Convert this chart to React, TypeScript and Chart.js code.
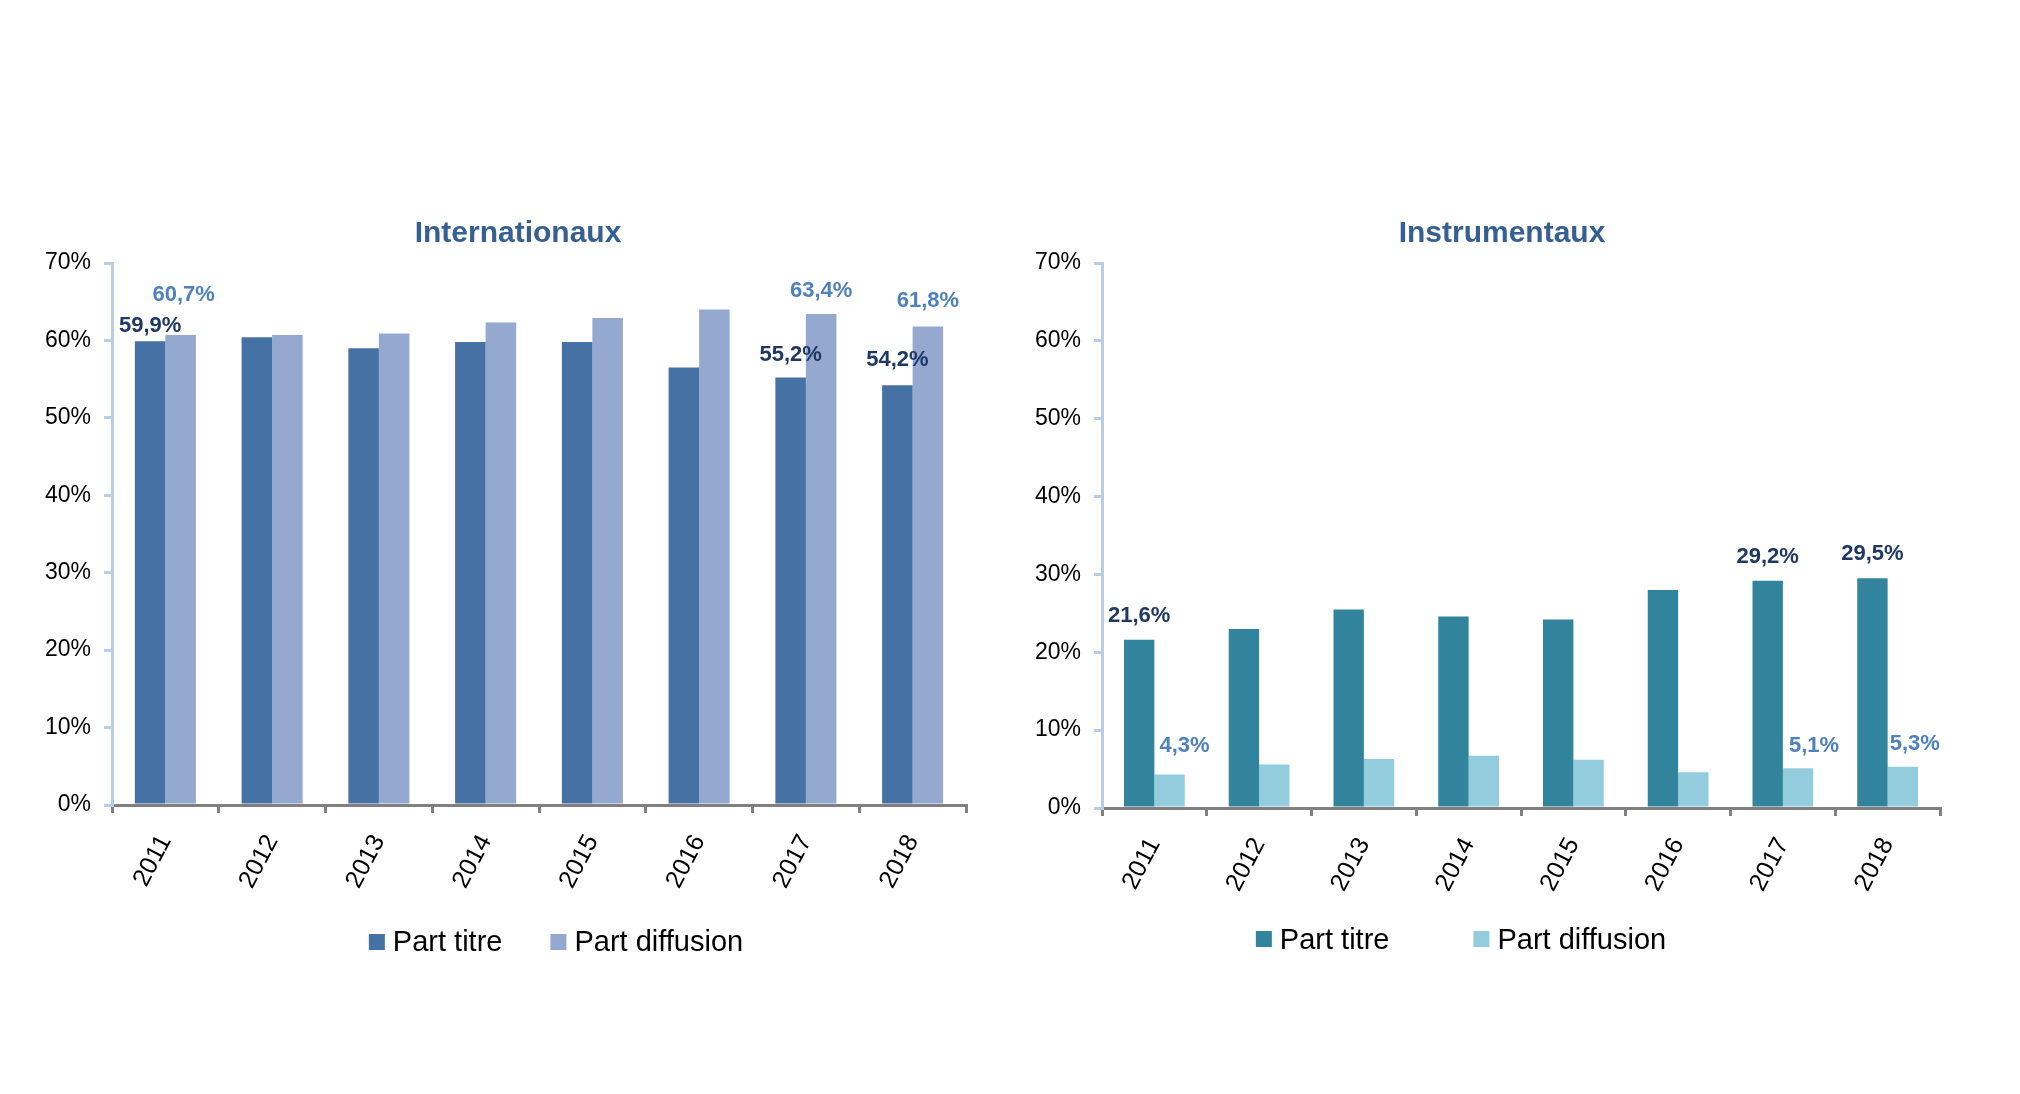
import React, { useEffect, useRef } from 'react';
import { Chart, registerables } from 'chart.js';

Chart.register(...registerables);

// ---- data ----
const years = ['2011', '2012', '2013', '2014', '2015', '2016', '2017', '2018'];
const seriesNames = ['Part titre', 'Part diffusion'];
const yMax = 70;
const yStep = 10;

const intlTitle = 'Internationaux';
const intlTitre = [59.9, 60.4, 59.0, 59.8, 59.8, 56.5, 55.2, 54.2];
const intlDiffusion = [60.7, 60.7, 60.9, 62.3, 62.9, 64.0, 63.4, 61.8];

const instTitle = 'Instrumentaux';
const instTitre = [21.6, 23.0, 25.5, 24.6, 24.2, 28.0, 29.2, 29.5];
const instDiffusion = [4.3, 5.6, 6.3, 6.7, 6.2, 4.6, 5.1, 5.3];

const labeledYears = ['2011', '2017', '2018'];

const FONT = '"Liberation Sans", Arial, Helvetica, sans-serif';

type PanelCfg = {
  left: number;
  width: number;
  height: number;
  yAxisWidth: number;
  padRight: number;
  padTop: number;
  xAxisHeight: number;
  catPct: number;
  titleX: number;
  titleBaseline: number;
  legendX: number;
  legendBoxY: number;
  legendTextY: number;
  legendGap: number;
  colors: string[];
  labelColors: string[];
  // per dataset, per labeled index: [dx, lift]
  labelOffsets: number[][][];
};

const overlayPlugin = {
  id: 'overlay',
  afterDatasetsDraw(chart: any, _args: any, opts: any) {
    const ctx: CanvasRenderingContext2D = chart.ctx;
    ctx.save();
    // data labels
    ctx.font = `bold 22px ${FONT}`;
    ctx.textAlign = 'center';
    ctx.textBaseline = 'alphabetic';
    chart.data.datasets.forEach((ds: any, di: number) => {
      const meta = chart.getDatasetMeta(di);
      opts.labeled.forEach((lab: string, k: number) => {
        const idx = chart.data.labels.indexOf(lab);
        if (idx < 0) return;
        const el = meta.data[idx];
        const v = ds.data[idx] as number;
        const [dx, lift] = opts.labelOffsets[di][k];
        ctx.fillStyle = opts.labelColors[di];
        ctx.fillText(v.toFixed(1).replace('.', ',') + '%', el.x + dx, el.y - lift);
      });
    });
    ctx.restore();
  },
  afterDraw(chart: any, _args: any, opts: any) {
    const ctx: CanvasRenderingContext2D = chart.ctx;
    ctx.save();
    // title
    ctx.font = `bold 30px ${FONT}`;
    ctx.fillStyle = '#376092';
    ctx.textAlign = 'center';
    ctx.textBaseline = 'alphabetic';
    ctx.fillText(opts.title, opts.titleX, opts.titleBaseline);
    // legend
    ctx.font = `29px ${FONT}`;
    ctx.textAlign = 'left';
    const box = 16;
    const boxGap = 8;
    const items = chart.data.datasets.map((ds: any) => ({
      text: ds.label as string,
      color: ds.backgroundColor as string,
      w: ctx.measureText(ds.label).width,
    }));
    let total = 0;
    items.forEach((it: any, i: number) => {
      total += box + boxGap + it.w + (i > 0 ? opts.legendGap : 0);
    });
    let x = opts.legendX - total / 2;
    items.forEach((it: any) => {
      ctx.fillStyle = it.color;
      ctx.fillRect(x, opts.legendBoxY - box / 2, box, box);
      ctx.fillStyle = '#000000';
      ctx.fillText(it.text, x + box + boxGap, opts.legendTextY);
      x += box + boxGap + it.w + opts.legendGap;
    });
    ctx.restore();
  },
};

function BarPanel({ cfg, title, titre, diffusion }: { cfg: PanelCfg; title: string; titre: number[]; diffusion: number[] }) {
  const ref = useRef<HTMLCanvasElement | null>(null);
  useEffect(() => {
    if (!ref.current) return;
    const chart = new Chart(ref.current, {
      type: 'bar',
      data: {
        labels: years,
        datasets: [
          { label: seriesNames[0], data: titre, backgroundColor: cfg.colors[0], borderWidth: 0 },
          { label: seriesNames[1], data: diffusion, backgroundColor: cfg.colors[1], borderWidth: 0 },
        ],
      },
      options: {
        animation: false,
        responsive: false,
        devicePixelRatio: 1,
        datasets: { bar: { categoryPercentage: cfg.catPct, barPercentage: 1 } },
        layout: { padding: { top: cfg.padTop, right: cfg.padRight, left: 0, bottom: 0 } },
        plugins: {
          legend: { display: false },
          title: { display: false },
          tooltip: { enabled: false },
          overlay: {
            title,
            titleX: cfg.titleX,
            titleBaseline: cfg.titleBaseline,
            legendX: cfg.legendX,
            legendBoxY: cfg.legendBoxY,
            legendTextY: cfg.legendTextY,
            legendGap: cfg.legendGap,
            labeled: labeledYears,
            labelOffsets: cfg.labelOffsets,
            labelColors: cfg.labelColors,
          },
        } as any,
        scales: {
          x: {
            afterFit: (s: any) => { s.height = cfg.xAxisHeight; },
            border: { color: '#808080', width: 3 },
            grid: { drawOnChartArea: false, drawTicks: true, tickLength: 8, color: '#808080', lineWidth: 3, offset: true },
            ticks: { font: { family: FONT, size: 25 }, color: '#000000', minRotation: 62, maxRotation: 62, padding: 17 },
          },
          y: {
            min: 0,
            max: yMax,
            afterFit: (s: any) => { s.width = cfg.yAxisWidth; },
            border: { color: '#B9CDE5', width: 3 },
            grid: { drawOnChartArea: false, drawTicks: true, tickLength: 8, color: '#B9CDE5', lineWidth: 3 },
            ticks: {
              stepSize: yStep,
              font: { family: FONT, size: 23 },
              color: '#000000',
              padding: 13,
              callback: (v: any) => `${v}%`,
            },
          },
        },
      },
      plugins: [overlayPlugin as any],
    });
    return () => chart.destroy();
  }, []);
  return (
    <div style={{ position: 'absolute', left: cfg.left, top: 0, width: cfg.width, height: cfg.height }}>
      <canvas ref={ref} width={cfg.width} height={cfg.height} style={{ width: cfg.width, height: cfg.height, display: 'block' }} />
    </div>
  );
}

const leftCfg: PanelCfg = {
  left: 0,
  width: 1010,
  height: 1094,
  yAxisWidth: 112,
  padRight: 44,
  padTop: 263,
  xAxisHeight: 289,
  catPct: 0.572,
  titleX: 518,
  titleBaseline: 242,
  legendX: 556,
  legendBoxY: 942,
  legendTextY: 951,
  legendGap: 48,
  colors: ['#4671A5', '#95A9D0'],
  labelColors: ['#1F3864', '#4F81BD'],
  labelOffsets: [
    [[0, 9], [0, 17], [0, 19]],
    [[3, 34], [0, 17], [0, 19]],
  ],
};

const rightCfg: PanelCfg = {
  left: 1010,
  width: 1010,
  height: 1094,
  yAxisWidth: 92,
  padRight: 80,
  padTop: 263,
  xAxisHeight: 286,
  catPct: 0.58,
  titleX: 492,
  titleBaseline: 242,
  legendX: 451,
  legendBoxY: 939,
  legendTextY: 949,
  legendGap: 84,
  colors: ['#31849B', '#93CDDD'],
  labelColors: ['#1F3864', '#4F81BD'],
  labelOffsets: [
    [[0, 18], [0, 18], [0, 18]],
    [[15, 23], [16, 16], [12, 17]],
  ],
};

export default function App() {
  return (
    <div style={{ position: 'absolute', left: 0, top: 0, width: 2020, height: 1094, background: '#ffffff', overflow: 'hidden' }}>
      <BarPanel cfg={leftCfg} title={intlTitle} titre={intlTitre} diffusion={intlDiffusion} />
      <BarPanel cfg={rightCfg} title={instTitle} titre={instTitre} diffusion={instDiffusion} />
    </div>
  );
}
